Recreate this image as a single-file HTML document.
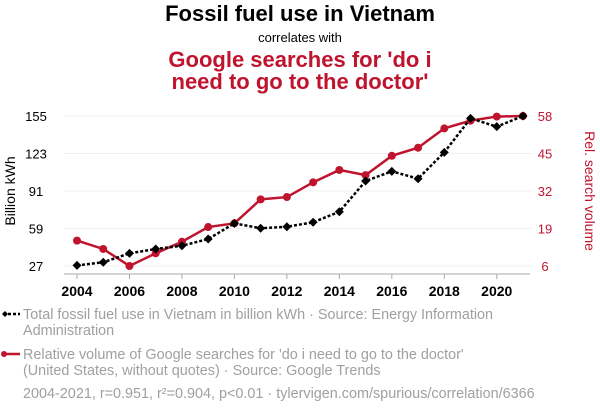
<!DOCTYPE html>
<html><head><meta charset="utf-8"><style>
body{margin:0;background:#fff;width:600px;height:414px;overflow:hidden;font-family:"Liberation Sans",sans-serif;}
</style></head><body>
<svg width="600" height="414" viewBox="0 0 600 414" xmlns="http://www.w3.org/2000/svg" font-family="Liberation Sans, sans-serif">
<text x="300" y="21" text-anchor="middle" font-size="22" font-weight="bold" fill="#000">Fossil fuel use in Vietnam</text>
<text x="300" y="42" text-anchor="middle" font-size="13" fill="#000">correlates with</text>
<text x="300" y="67" text-anchor="middle" font-size="22" font-weight="bold" fill="#c0132e">Google searches for 'do i</text>
<text x="300" y="89" text-anchor="middle" font-size="22" font-weight="bold" fill="#c0132e">need to go to the doctor'</text>
<g id="grid"></g>
<g id="axes"></g>
<g id="marks"></g>
<text transform="translate(15,191) rotate(-90)" text-anchor="middle" font-size="14" fill="#000">Billion kWh</text>
<text transform="translate(585,191) rotate(90)" text-anchor="middle" font-size="14" fill="#c0132e">Rel. search volume</text>
<g>
<line x1="3" y1="314" x2="20" y2="314" stroke="#000" stroke-width="2.5" stroke-dasharray="3,2"/>
<path d="M2,314 l3,-3 l3,3 l-3,3z" fill="#000"/>
<text x="23" y="319" font-size="14.4" fill="#a0a0a0">Total fossil fuel use in Vietnam in billion kWh · Source: Energy Information</text>
<text x="23" y="335" font-size="14.4" fill="#a0a0a0">Administration</text>
</g>
<g>
<line x1="3" y1="354" x2="20" y2="354" stroke="#c0132e" stroke-width="2.5"/>
<circle cx="4" cy="354" r="3" fill="#c0132e"/>
<text x="23" y="359" font-size="14.4" fill="#a0a0a0">Relative volume of Google searches for 'do i need to go to the doctor'</text>
<text x="23" y="375" font-size="14.4" fill="#a0a0a0">(United States, without quotes) · Source: Google Trends</text>
</g>
<text x="23" y="398" font-size="14.4" fill="#a0a0a0">2004-2021, r=0.951, r²=0.904, p&lt;0.01 · tylervigen.com/spurious/correlation/6366</text>
</svg>
<script>
const years=[2004,2005,2006,2007,2008,2009,2010,2011,2012,2013,2014,2015,2016,2017,2018,2019,2020,2021];
const fossil=[27.5,30.2,37.8,41.5,44.3,50,63.4,59.2,60.5,64.3,73.3,99.5,107.8,101.5,124,153,145.9,155];
const search=[14.8,11.9,6,10.4,14.4,19.5,20.8,29.1,29.9,35,39.3,37.5,44.2,47,53.7,56.4,57.8,58];
const leftTicks=[27,59,91,123,155];
const rightTicks=[6,19,32,45,58];
const xTicks=[2004,2006,2008,2010,2012,2014,2016,2018,2020];
const NS="http://www.w3.org/2000/svg";
const X=y=>77+(y-2004)*(523-77)/17;
const YL=v=>266-(v-27)*150/128;
const YR=v=>266-(v-6)*150/52;
function mk(tag,attrs,parent){const e=document.createElementNS(NS,tag);for(const k in attrs)e.setAttribute(k,attrs[k]);parent.appendChild(e);return e;}
const grid=document.getElementById('grid'),axes=document.getElementById('axes'),marks=document.getElementById('marks');
leftTicks.forEach((t,i)=>{
 const g=mk('line',{x1:64,x2:532,y1:YL(t),y2:YL(t),stroke:'#f0f0f0','stroke-width':1},grid);
 
 
 const tl=mk('text',{x:36,y:YL(t)+5,'text-anchor':'middle','font-size':13,fill:'#000'},axes);tl.textContent=t;
 
 
});
rightTicks.forEach(t=>{
 const tr=mk('text',{x:545,y:YR(t)+5,'text-anchor':'middle','font-size':13,fill:'#c0132e'},axes);tr.textContent=t;
 
 
});
const xa=mk('line',{x1:64,x2:530,y1:274,y2:274,stroke:'#aaa','stroke-width':1},axes);


xTicks.forEach(t=>{
 mk('line',{x1:X(t),x2:X(t),y1:274,y2:279,stroke:'#aaa'},axes);
 const tx=mk('text',{x:X(t),y:296,'text-anchor':'middle','font-size':14,'font-weight':'bold',fill:'#000'},axes);tx.textContent=t;
 
 
});
const sp=mk('polyline',{points:years.map((y,i)=>X(y)+','+YR(search[i])).join(' '),fill:'none',stroke:'#c0132e','stroke-width':2.5},marks);


years.forEach((y,i)=>{const c=mk('circle',{cx:X(y),cy:YR(search[i]),r:4,fill:'#c0132e'},marks);
 
 });
const fp=mk('polyline',{points:years.map((y,i)=>X(y)+','+YL(fossil[i])).join(' '),fill:'none',stroke:'#000','stroke-width':2.5,'stroke-dasharray':'3,2'},marks);


years.forEach((y,i)=>{const x=X(y),yy=YL(fossil[i]);
 const d=mk('path',{d:`M${x-4.5},${yy} L${x},${yy-4.5} L${x+4.5},${yy} L${x},${yy+4.5}Z`,fill:'#000'},marks);
 
 });
</script>
</body></html>
